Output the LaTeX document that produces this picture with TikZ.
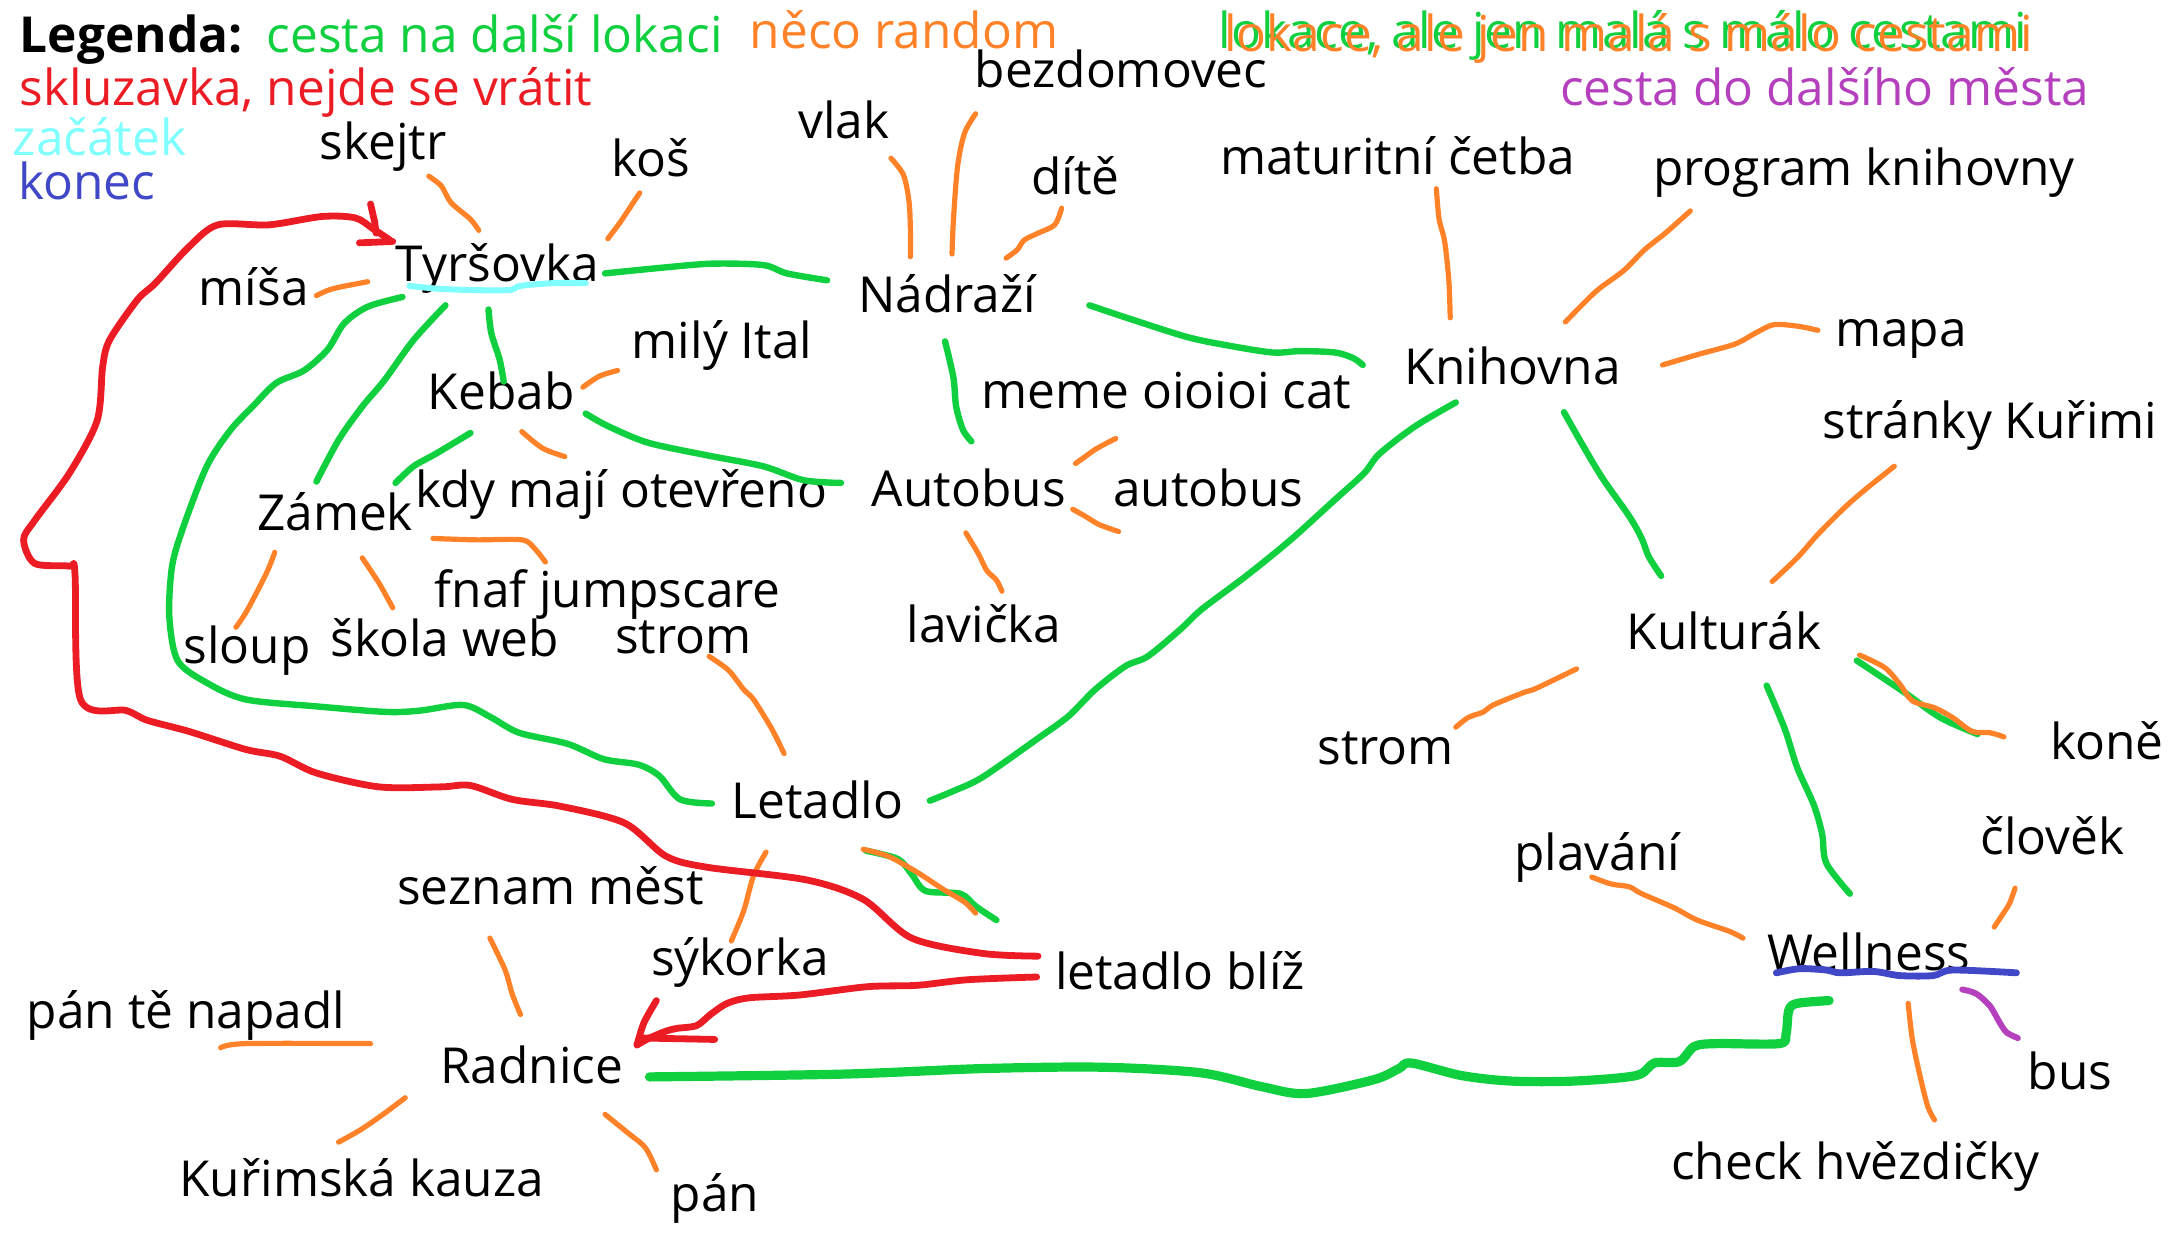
\documentclass[tikz,border=0pt]{standalone}
\usepackage{fontspec}
\setmainfont{Open Sans}
\definecolor{cgreen}{RGB}{16,208,64}
\definecolor{corange}{RGB}{255,130,40}
\definecolor{cred}{RGB}{236,28,36}
\definecolor{ccyan}{RGB}{128,255,255}
\definecolor{cblue}{RGB}{64,72,200}
\definecolor{cpurple}{RGB}{180,64,190}
\begin{document}
\begin{tikzpicture}[x=0.6939pt,y=-0.6939pt,
  lbl/.style={anchor=base west,inner sep=0pt,font=\fontsize{24.8}{29}\selectfont},
  grn/.style={draw=cgreen,line width=3.2pt,line cap=round,line join=round},
  grnb/.style={draw=cgreen,line width=4.6pt,line cap=round,line join=round},
  org/.style={draw=corange,line width=2.6pt,line cap=round,line join=round},
  rd/.style={draw=cred,line width=3.4pt,line cap=round,line join=round},
  cy/.style={draw=ccyan,line width=3pt,line cap=round,line join=round},
  bl/.style={draw=cblue,line width=3.4pt,line cap=round,line join=round},
  pu/.style={draw=cpurple,line width=3pt,line cap=round,line join=round}]
\fill[white] (0,0) rectangle (1568,899);
\useasboundingbox (0,0) rectangle (1568,899);

% ---------- legend ----------
\node[lbl,font=\fontsize{24.8}{29}\selectfont\bfseries] (lg) at (14,38) {Legenda:};
\node[lbl,text=cgreen] (lg1) at (192,38) {cesta na další lokaci};
\node[lbl,text=corange] (lg2) at (540,35) {něco random};
\node[lbl,text=cgreen] (lg3a) at (878,35) {lokace, ale jen malá s málo cestami};
\node[lbl,text=corange] (lg3b) at (882,37) {lokace, ale jen malá s málo cestami};
\node[lbl,text=cred] (lg4) at (14,76) {skluzavka, nejde se vrátit};
\node[lbl,text=cpurple] (lg5) at (1124,76) {cesta do dalšího města};
\node[lbl,text=ccyan] (lg6) at (9,112) {začátek};
\node[lbl,text=cblue] (lg7) at (13,144) {konec};

% ---------- texts ----------
\node[lbl] (skejtr) at (230,115) {skejtr};
\node[lbl] (kos) at (440,127) {koš};
\node[lbl] (vlak) at (575,100) {vlak};
\node[lbl] (bezd) at (702,63) {bezdomovec};
\node[lbl] (dite) at (743,140) {dítě};
\node[lbl] (matur) at (879,126) {maturitní četba};
\node[lbl] (progr) at (1191,134) {program knihovny};
\node[lbl] (mapa) at (1322,250) {mapa};
\node[lbl] (stranky) at (1313,316) {stránky Kuřimi};
\node[lbl] (misa) at (143,220) {míša};
\node[lbl] (tyrs) at (285,203) {Tyršovka};
\node[lbl] (nadr) at (618,225) {Nádraží};
\node[lbl] (knih) at (1012,277) {Knihovna};
\node[lbl] (ital) at (455,258) {milý Ital};
\node[lbl] (kebab) at (308,295) {Kebab};
\node[lbl] (meme) at (707,294) {meme oioioi cat};
\node[lbl] (zamek) at (185,382) {Zámek};
\node[lbl] (kdy) at (299,366) {kdy mají otevřeno};
\node[lbl] (autob) at (628,365) {Autobus};
\node[lbl] (autob2) at (802,365) {autobus};
\node[lbl] (fnaf) at (313,438) {fnaf jumpscare};
\node[lbl] (strom1) at (443,471) {strom};
\node[lbl] (lavicka) at (653,463) {lavička};
\node[lbl] (sloup) at (132,478) {sloup};
\node[lbl] (skola) at (238,473) {škola web};
\node[lbl] (kultur) at (1172,468) {Kulturák};
\node[lbl] (strom2) at (949,551) {strom};
\node[lbl] (kone) at (1477,547) {koně};
\node[lbl] (letadlo) at (527,590) {Letadlo};
\node[lbl] (seznam) at (286,652) {seznam měst};
\node[lbl] (plavani) at (1091,627) {plavání};
\node[lbl] (clovek) at (1427,616) {člověk};
\node[lbl] (sykorka) at (469,703) {sýkorka};
\node[lbl] (letblz) at (760,713) {letadlo blíž};
\node[lbl] (well) at (1273,699) {Wellness};
\node[lbl] (napadl) at (19,741) {pán tě napadl};
\node[lbl] (radnice) at (317,781) {Radnice};
\node[lbl] (bus) at (1461,785) {bus};
\node[lbl] (kauza) at (129,862) {Kuřimská kauza};
\node[lbl] (pan) at (483,873) {pán};
\node[lbl] (check) at (1204,850) {check hvězdičky};

% ---------- underlines ----------
\draw[cy] plot[smooth,tension=0.5] coordinates {(295,206) (315,208) (339,209) (367,209) (375,206) (399,204) (422,204)};
\draw[bl] plot[smooth,tension=0.5] coordinates {(1280,701) (1297,698) (1316,699) (1326,701) (1350,700) (1369,703) (1393,703) (1407,699) (1453,701)};

% ---------- green paths ----------
\draw[grn] plot[smooth,tension=0.5] coordinates {(436,197) (476,193) (513,190) (550,191) (567,197) (596,202)};
\draw[grn] plot[smooth,tension=0.5] coordinates {(352,223) (354,240) (360,259) (363,275)};
\draw[grn] plot[smooth,tension=0.5] coordinates {(321,220) (298,245) (277,274) (261,293) (244,317) (228,347)};
\draw[grn] plot[smooth,tension=0.5] coordinates {(290,214) (265,221) (248,233) (236,252) (219,267) (199,276) (182,293) (166,310) (149,336) (132,380) (124,408) (122,444) (128,476) (149,492) (177,504) (228,509) (278,513) (303,512) (334,508) (354,517) (374,528) (409,536) (435,547) (460,551) (475,559) (490,576) (513,579)};
\draw[grn] plot[smooth,tension=0.5] coordinates {(339,312) (314,327) (298,336) (285,348)};
\draw[grn] plot[smooth,tension=0.5] coordinates {(422,298) (438,307) (467,319) (509,328) (550,336) (579,346) (606,348)};
\draw[grn] plot[smooth,tension=0.5] coordinates {(681,246) (687,272) (689,293) (694,310) (700,318)};
\draw[grn] plot[smooth,tension=0.5] coordinates {(785,220) (818,231) (856,243) (885,249) (917,254) (937,253) (962,254) (975,258) (982,263)};
\draw[grn] plot[smooth,tension=0.5] coordinates {(1049,290) (1020,307) (994,327) (983,341) (962,360) (930,389) (898,415) (866,439) (850,454) (827,473) (811,480) (789,497) (770,516) (748,532) (708,560) (687,570) (670,577)};
\draw[grn] plot[smooth,tension=0.5] coordinates {(1127,297) (1140,320) (1155,345) (1174,372) (1183,388) (1188,401) (1197,415)};
\draw[grn] plot[smooth,tension=0.5] coordinates {(1273,494) (1286,525) (1295,553) (1307,580) (1313,601) (1316,622) (1333,644)};
\draw[grn] plot[smooth,tension=0.5] coordinates {(1338,476) (1371,498) (1398,517) (1425,529)};
\draw[grnb] plot[smooth,tension=0.5] coordinates {(468,776) (607,774) (708,770) (793,769) (865,773) (909,783) (941,788) (990,778) (1008,770) (1017,766) (1053,775) (1089,779) (1134,779) (1179,775) (1192,766) (1210,765) (1221,754) (1237,752) (1282,752) (1287,745) (1289,728) (1295,723) (1318,721)};
\draw[grn] plot[smooth,tension=0.5] coordinates {(624,613) (647,619) (657,630) (667,642) (692,644) (703,653) (718,663)};

% ---------- orange strokes ----------
\draw[org] plot[smooth,tension=0.5] coordinates {(622,612) (640,617) (660,628) (680,641) (695,650) (703,658)};
\draw[org] plot[smooth,tension=0.5] coordinates {(309,127) (318,134) (325,146) (339,158) (345,166)};
\draw[org] plot[smooth,tension=0.5] coordinates {(461,139) (455,148) (447,160) (438,172)};
\draw[org] plot[smooth,tension=0.5] coordinates {(228,213) (240,208) (265,203)};
\draw[org] plot[smooth,tension=0.5] coordinates {(642,114) (651,126) (655,145) (656,165) (656,185)};
\draw[org] plot[smooth,tension=0.5] coordinates {(703,82) (695,96) (690,120) (687,159) (686,183)};
\draw[org] plot[smooth,tension=0.5] coordinates {(765,150) (760,162) (748,168) (738,173) (733,180) (725,186)};
\draw[org] plot[smooth,tension=0.5] coordinates {(1035,136) (1037,158) (1041,174) (1044,202) (1045,229)};
\draw[org] plot[smooth,tension=0.5] coordinates {(1218,152) (1200,168) (1185,180) (1170,195) (1150,210) (1128,232)};
\draw[org] plot[smooth,tension=0.5] coordinates {(1198,263) (1225,255) (1250,248) (1265,240) (1278,234) (1295,235) (1310,238)};
\draw[org] plot[smooth,tension=0.5] coordinates {(1365,336) (1345,352) (1330,365) (1310,385) (1295,402) (1277,419)};
\draw[org] plot[smooth,tension=0.5] coordinates {(1136,482) (1107,496) (1098,499) (1076,508) (1069,513) (1058,517) (1049,524)};
\draw[org] plot[smooth,tension=0.5] coordinates {(1340,472) (1358,481) (1369,493) (1378,505) (1394,510) (1407,517) (1421,527) (1434,528) (1444,531)};
\draw[org] plot[smooth,tension=0.5] coordinates {(1147,632) (1161,637) (1174,639) (1183,644) (1206,654) (1223,663) (1246,671) (1256,676)};
\draw[org] plot[smooth,tension=0.5] coordinates {(1452,640) (1448,651) (1443,659) (1437,668)};
\draw[org] plot[smooth,tension=0.5] coordinates {(1375,723) (1378,749) (1383,773) (1389,797) (1394,807)};
\draw[org] plot[smooth,tension=0.5] coordinates {(420,279) (432,271) (445,267)};
\draw[org] plot[smooth,tension=0.5] coordinates {(376,311) (391,323) (407,329)};
\draw[org] plot[smooth,tension=0.5] coordinates {(312,388) (343,389) (376,389) (385,395) (393,405)};
\draw[org] plot[smooth,tension=0.5] coordinates {(198,398) (192,413) (178,440) (170,452)};
\draw[org] plot[smooth,tension=0.5] coordinates {(261,402) (273,420) (283,438)};
\draw[org] plot[smooth,tension=0.5] coordinates {(511,473) (525,483) (536,497) (543,504) (556,525) (565,543)};
\draw[org] plot[smooth,tension=0.5] coordinates {(804,316) (798,319) (789,324) (782,329) (775,334)};
\draw[org] plot[smooth,tension=0.5] coordinates {(773,367) (782,372) (792,378) (806,383)};
\draw[org] plot[smooth,tension=0.5] coordinates {(696,384) (705,399) (711,411) (718,418) (722,426)};
\draw[org] plot[smooth,tension=0.5] coordinates {(552,614) (543,631) (536,656) (527,678)};
\draw[org] plot[smooth,tension=0.5] coordinates {(353,676) (364,699) (369,716) (375,731)};
\draw[org] plot[smooth,tension=0.5] coordinates {(159,755) (177,752) (267,752)};
\draw[org] plot[smooth,tension=0.5] coordinates {(292,791) (276,803) (260,814) (244,823)};
\draw[org] plot[smooth,tension=0.5] coordinates {(436,803) (452,816) (465,827) (473,843)};

% ---------- purple ----------
\draw[pu] plot[smooth,tension=0.5] coordinates {(1414,713) (1424,716) (1434,725) (1441,737) (1446,744) (1454,748)};

% ---------- red slides ----------
\draw[rd] plot[smooth,tension=0.5] coordinates {(748,689) (708,687) (657,676) (622,648) (581,634) (510,625) (480,617) (450,593) (404,581) (369,576) (339,566) (318,567) (273,567) (228,557) (202,545) (177,540) (136,527) (106,519) (91,512) (58,504) (54,413) (50,408) (25,406) (17,389) (25,375) (50,341) (70,303) (74,264) (79,245) (99,216) (112,204) (136,178) (157,162) (194,162) (232,156) (256,157) (269,165) (281,173)};
\draw[rd] (267,147) -- (270,160) -- (271,168);
\draw[rd] (259,175) -- (283,174);
\draw[rd] plot[smooth,tension=0.5] coordinates {(747,704) (697,706) (661,710) (625,711) (576,717) (540,719) (524,723) (512,731) (502,739) (488,741) (480,743) (468,748) (459,753)};
\draw[rd] plot[smooth,tension=0.5] coordinates {(473,721) (464,737) (459,753)};
\draw[rd] (464,748) -- (515,749);
\end{tikzpicture}
\end{document}
